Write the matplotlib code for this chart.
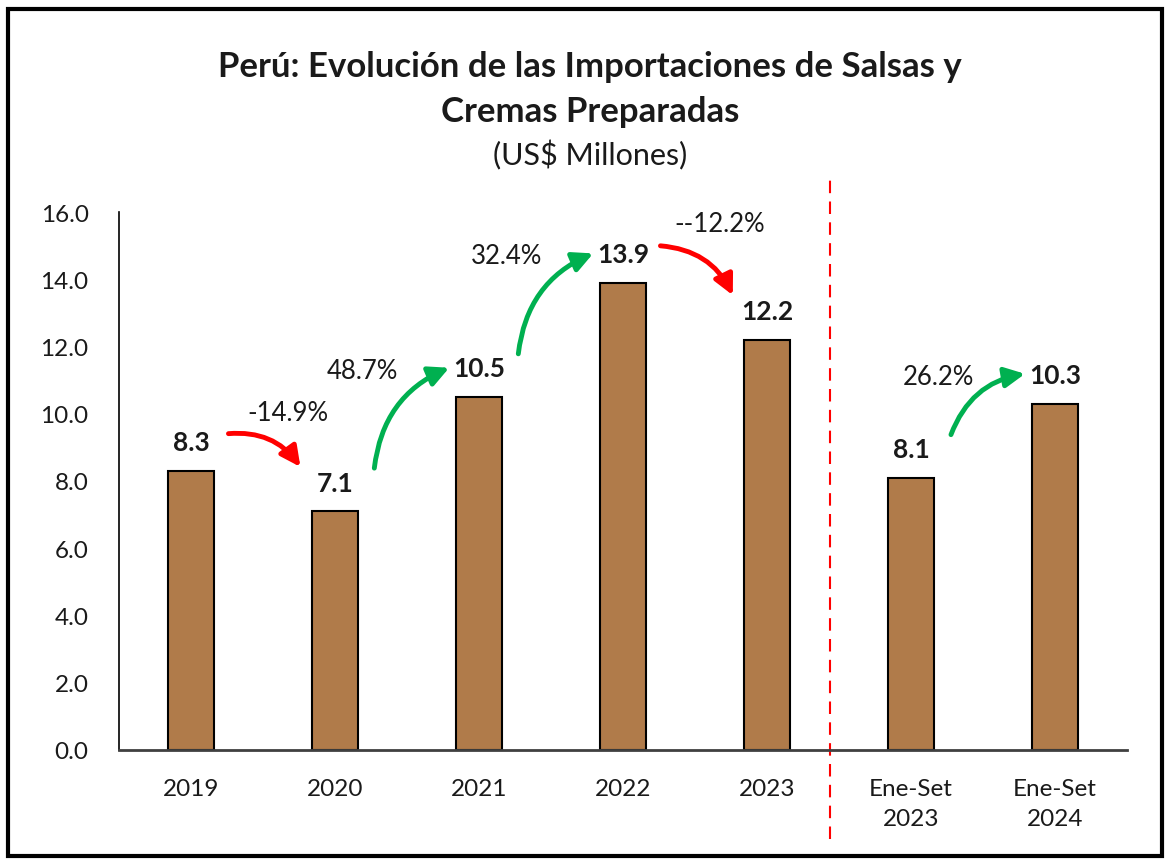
import matplotlib.pyplot as plt
from matplotlib.patches import FancyArrowPatch, Rectangle

plt.rcParams['font.family'] = ['Lato', 'DejaVu Sans']

categories = ['2019', '2020', '2021', '2022', '2023', 'Ene-Set\n2023', 'Ene-Set\n2024']
values = [8.3, 7.1, 10.5, 13.9, 12.2, 8.1, 10.3]

# variation arrows: (from index, to index, label)
changes = [(0, 1, '-14.9%'), (1, 2, '48.7%'), (2, 3, '32.4%'),
           (3, 4, '--12.2%'), (5, 6, '26.2%')]

colors = {
    'bar': '#B07B4A',
    'up': '#00B050',
    'down': '#FF0000',
    'text': '#1a1a1a',
}

fig = plt.figure(figsize=(11.68, 8.62), dpi=100)
ax = fig.add_axes([0.102, 0.1288, 0.863, 0.6241])

x = range(len(categories))
ax.bar(x, values, width=0.32, color=colors['bar'], edgecolor='black', linewidth=1.5, zorder=2)

for i, v in zip(x, values):
    ax.annotate(f'{v:.1f}', (i, v), xytext=(0, 12), textcoords='offset points',
                ha='center', va='bottom', fontsize=19, fontweight='bold', color=colors['text'])

for i, j, lab in changes:
    vi, vj = values[i], values[j]
    if vj > vi:
        start = (i + 0.27, vi + 1.2)
        end = (j - 0.19, vj + 0.9)
        col = colors['up']
        ax.text(i + 0.19, vj + 0.8, lab, ha='center', va='center', fontsize=18.5, color=colors['text'])
    else:
        start = (i + 0.24, vi + 1.1)
        end = (j - 0.23, vj + 1.25)
        col = colors['down']
        ax.text((i + j) / 2 + 0.17, vi + 1.75, lab, ha='center', va='center', fontsize=18.5, color=colors['text'])
    arr = FancyArrowPatch(start, end, connectionstyle='arc3,rad=-0.3', arrowstyle='-|>',
                          mutation_scale=30, lw=3.5, color=col, clip_on=False, zorder=3)
    ax.add_patch(arr)

# separator between annual and partial-year data
ax.plot([4.44, 4.44], [-2.65, 17.05], color='red', lw=1.5, ls=(0, (6, 4)), clip_on=False, zorder=1)

ax.set_xlim(-0.5, 6.5)
ax.set_ylim(0, 16)
ax.set_yticks(range(0, 17, 2))
ax.set_yticklabels([f'{t:.1f}' for t in range(0, 17, 2)])
ax.set_xticks(list(x))
ax.set_xticklabels(categories, linespacing=1.55)
ax.tick_params(axis='y', length=0, pad=22, labelsize=17.5, colors=colors['text'])
ax.tick_params(axis='x', length=0, pad=20, labelsize=17.5, colors=colors['text'])

for s in ['top', 'right']:
    ax.spines[s].set_visible(False)
ax.spines['left'].set_color('black')
ax.spines['left'].set_linewidth(1.2)
ax.spines['bottom'].set_color('#404040')
ax.spines['bottom'].set_linewidth(2)

fig.text(0.505, 0.922, 'Perú: Evolución de las Importaciones de Salsas y', ha='center', va='center',
         fontsize=25, fontweight='bold', color=colors['text'])
fig.text(0.505, 0.870, 'Cremas Preparadas', ha='center', va='center',
         fontsize=25, fontweight='bold', color=colors['text'])
fig.text(0.505, 0.820, '(US$ Millones)', ha='center', va='center', fontsize=22, color=colors['text'])

fig.patches.append(Rectangle((0.007, 0.006), 0.988, 0.982, transform=fig.transFigure,
                             fill=False, edgecolor='black', linewidth=3))

fig.savefig('out.png', dpi=100)
